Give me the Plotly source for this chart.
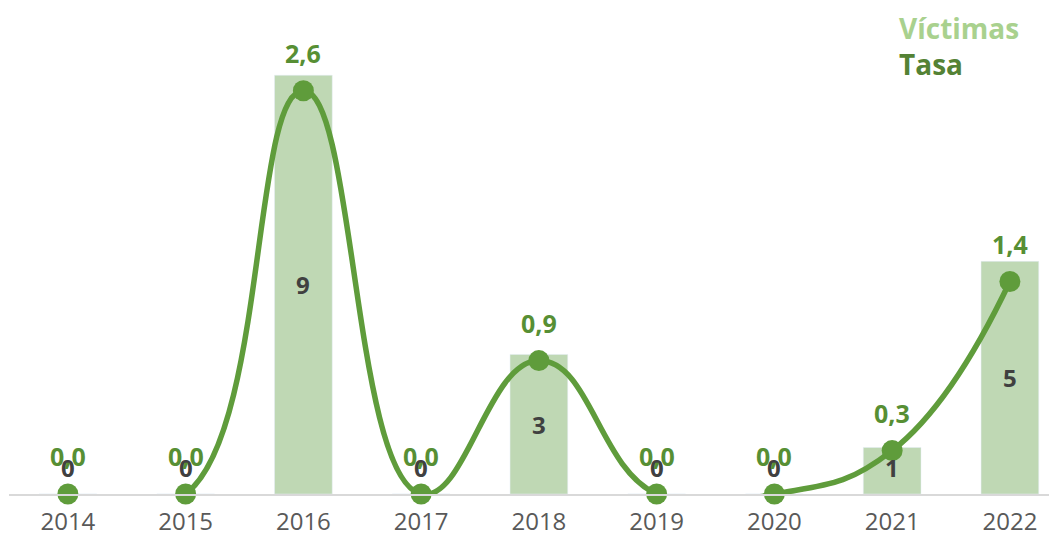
import plotly.graph_objects as go

years = ["2014", "2015", "2016", "2017", "2018", "2019", "2020", "2021", "2022"]
victimas = [0, 0, 9, 0, 3, 0, 0, 1, 5]
tasa = [0.0, 0.0, 2.6, 0.0, 0.86, 0.0, 0.0, 0.28, 1.37]

BAR_C = "#bfd8b4"
LINE_C = "#5f9c3b"
LABEL_C = "#578f34"
LEG_V = "#a9d18e"
LEG_T = "#548235"
FONT = "Open Sans"

fig = go.Figure()
fig.add_trace(go.Bar(x=years, y=victimas, marker_color=BAR_C, width=0.49,
                     name="Víctimas", hoverinfo="skip"))
fig.add_trace(go.Scatter(x=years, y=tasa, yaxis="y2", mode="lines+markers",
                         cliponaxis=False,
                         line=dict(color=LINE_C, width=5.5, shape="spline", smoothing=1.3),
                         marker=dict(color=LINE_C, size=21), name="Tasa"))

ann = []
for i, v in enumerate(victimas):
    if v >= 2:
        ann.append(dict(x=i, y=v / 2, yref="y", text=f"<b>{v}</b>", showarrow=False,
                        font=dict(family=FONT, size=24, color="#404040")))
    else:
        ann.append(dict(x=i, y=0, yref="y", yshift=27, text=f"<b>{v}</b>", showarrow=False,
                        font=dict(family=FONT, size=24, color="#404040")))
for i, t in enumerate(tasa):
    ann.append(dict(x=i, y=t, yref="y2", yshift=38,
                    text="<b>" + f"{t:.1f}".replace(".", ",") + "</b>", showarrow=False,
                    font=dict(family=FONT, size=25, color=LABEL_C)))
ann.append(dict(xref="paper", yref="paper", x=0.847, y=1.054, xanchor="left", yanchor="middle",
                text="<b>Víctimas</b>", showarrow=False,
                font=dict(family=FONT, size=28, color=LEG_V)))
ann.append(dict(xref="paper", yref="paper", x=0.847, y=0.973, xanchor="left", yanchor="middle",
                text="<b>Tasa</b>", showarrow=False,
                font=dict(family=FONT, size=28, color=LEG_T)))

fig.update_layout(
    width=1057, height=538,
    margin=dict(l=1, r=8, t=44, b=52),
    paper_bgcolor="white", plot_bgcolor="white",
    showlegend=False,
    annotations=ann,
    xaxis=dict(type="category", range=[-0.5, 8.4], showgrid=False, showline=True,
               linecolor="#d9d9d9", linewidth=2, ticks="", ticklabelstandoff=5,
               tickfont=dict(family=FONT, size=24, color="#595959")),
    yaxis=dict(range=[0, 9.5], visible=False, showgrid=False, zeroline=False),
    yaxis2=dict(range=[0, 2.85], overlaying="y", visible=False, showgrid=False, zeroline=False),
)

fig.write_html("out.html")
